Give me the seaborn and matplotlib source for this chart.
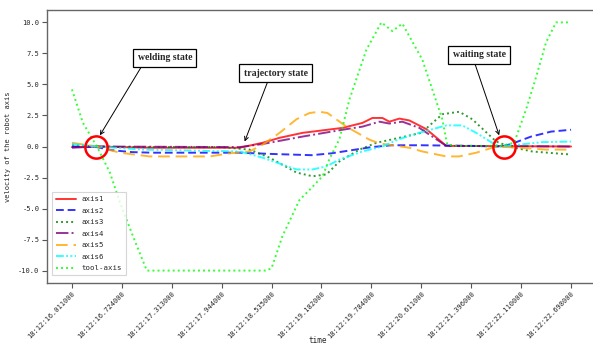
import matplotlib
matplotlib.use("Agg")
import matplotlib.pyplot as plt
import seaborn as sns
import pandas as pd

# ---- data (x = sample index, 0..100) ----
tick_labels = ["18:12:16.011000", "18:12:16.724000", "18:12:17.313000", "18:12:17.944000",
               "18:12:18.535000", "18:12:19.182000", "18:12:19.784000", "18:12:20.611000",
               "18:12:21.396000", "18:12:22.110000", "18:12:22.698000"]
tick_pos = [0, 10, 20, 30, 40, 50, 60, 70, 80, 90, 100]

axis1_x = [0, 5, 15.6, 33.6, 38.2, 41.6, 46.2, 54.2, 58.2, 60.2, 62.2, 63.6, 65.6, 67.6, 71, 75, 100]
axis1_y = [-0.05, 0, -0.1, -0.1, 0.3, 0.7, 1.1, 1.5, 1.9, 2.3, 2.3, 2.0, 2.25, 2.1, 1.4, 0.05, 0.0]

axis2_x = [0, 5, 8, 12, 16, 33.6, 40, 48, 52, 56, 60, 64, 70, 80, 86, 88, 92, 96, 100]
axis2_y = [0.0, -0.05, -0.3, -0.45, -0.5, -0.5, -0.6, -0.7, -0.55, -0.3, -0.05, 0.1, 0.1, 0.05, 0.0, 0.2, 0.8, 1.2, 1.35]

axis3_x = [0, 5, 10, 20, 30, 35.6, 39.6, 45, 48.2, 51, 53.6, 57.6, 61, 65, 70, 74.2, 77.6, 80.2, 85, 87.6, 92.2, 100]
axis3_y = [0.15, 0.0, -0.05, -0.05, -0.05, -0.25, -0.9, -2.1, -2.4, -2.25, -1.2, -0.25, 0.3, 0.65, 1.1, 2.6, 2.8, 2.2, 0.4, 0.0, -0.4, -0.65]

axis4_x = [0, 5, 33.6, 38.2, 46.2, 54.2, 58.2, 61.6, 63.6, 66.2, 69.6, 75, 100]
axis4_y = [-0.1, 0, -0.05, 0.2, 0.8, 1.35, 1.6, 2.0, 1.85, 2.0, 1.5, 0.05, 0.0]

axis5_x = [0, 5, 9.6, 15.6, 27.6, 31.6, 35.6, 38.2, 41.6, 45, 47.6, 49.6, 51.2, 55, 59.6, 61.6, 67.6, 70.2, 75, 77.6, 81, 85, 89.6, 95, 100]
axis5_y = [0.3, 0.0, -0.5, -0.8, -0.8, -0.55, -0.4, 0.15, 1.1, 2.2, 2.7, 2.8, 2.7, 1.6, 0.55, 0.25, -0.1, -0.4, -0.8, -0.8, -0.5, 0.0, -0.1, -0.25, -0.25]

axis6_x = [0, 5, 14.2, 33.6, 38.2, 45, 48.2, 51, 53.6, 58.2, 62.2, 65.6, 69.6, 75, 78.2, 81, 84.2, 85.6, 89.6, 94.2, 100]
axis6_y = [0.2, 0.0, -0.25, -0.4, -0.9, -1.85, -1.85, -1.6, -1.05, -0.4, 0.0, 0.6, 1.1, 1.7, 1.7, 1.1, 0.3, 0.0, 0.15, 0.35, 0.4]

tool_x = [0, 2.2, 5, 7.6, 9.6, 12.2, 15, 39, 40, 42.2, 45.6, 47.6, 50.2, 51.6, 53.6, 55.6, 59, 62, 64.2, 66.2,
          70.2, 72.2, 74.2, 75.2, 77, 86, 88.6, 91, 93, 95, 97, 100]
tool_y = [4.6, 1.9, 0, -2.1, -4.5, -7.2, -10, -10, -9.8, -7.2, -4.3, -3.5, -2.4, -1.0, 0.6, 3.8, 7.8, 10.0, 9.3, 9.9,
          7.0, 4.6, 2.2, 0.15, 0.05, 0.05, 0.3, 3.0, 5.6, 8.4, 10.0, 10.0]

# annotation anchors (state events)
state_names = ["welding state", "trajectory state", "waiting state"]
state_tip_x = [5.6, 34.6, 85.6]
state_tip_y = [0.9, 0.4, 0.9]
state_text_x = [18.6, 40.8, 81.6]
state_text_y = [7.15, 5.9, 7.4]
state_relpos = [(0.12, 0.0), (0.4, 0.0), (0.39, 0.0)]
circle_x = [4.8, 86.6]
circle_y = [0.0, 0.0]

series = [
    ("axis1", axis1_x, axis1_y, "red", "-"),
    ("axis2", axis2_x, axis2_y, "blue", (0, (4, 2))),
    ("axis3", axis3_x, axis3_y, "green", (0, (1, 1.6))),
    ("axis4", axis4_x, axis4_y, "purple", "-."),
    ("axis5", axis5_x, axis5_y, "orange", (0, (6, 3))),
    ("axis6", axis6_x, axis6_y, "cyan", (0, (4, 1.2, 1, 1.2, 1, 1.2))),
    ("tool-axis", tool_x, tool_y, "lime", (0, (1, 1.6))),
]

sns.set_style("white")
mono = ["DejaVu Sans Mono"]

fig = plt.figure(figsize=(5.93, 3.5), dpi=100)
ax = fig.add_axes([47 / 593, 67 / 350, 549 / 593, 273 / 350])

for name, xs, ys, col, ls in series:
    df = pd.DataFrame({"x": xs, "y": ys})
    sns.lineplot(data=df, x="x", y="y", ax=ax, color=col, linestyle=ls, lw=1.4,
                 alpha=0.8, label=name, estimator=None, sort=False)

ax.plot(circle_x, circle_y, linestyle="none", marker="o", ms=16, mfc="none",
        mec="red", mew=1.8, zorder=5)

for name, tx, ty, sx, sy, rp in zip(state_names, state_tip_x, state_tip_y,
                                     state_text_x, state_text_y, state_relpos):
    ax.annotate(name, xy=(tx, ty), xytext=(sx, sy), ha="center", va="center",
                fontfamily="Liberation Serif", fontweight="bold", fontsize=7,
                bbox=dict(boxstyle="square,pad=0.45", fc="white", ec="black", lw=0.9),
                arrowprops=dict(arrowstyle="->", color="black", lw=0.7,
                                relpos=rp, shrinkA=0, shrinkB=0),
                zorder=6)

ax.set_xticks(tick_pos)
ax.set_xticklabels(tick_labels, rotation=45, ha="right", rotation_mode="anchor",
                   fontfamily=mono, fontsize=5)
ax.set_yticks([-10, -7.5, -5, -2.5, 0, 2.5, 5, 7.5, 10])
ax.set_yticklabels(["-10.0", "-7.5", "-5.0", "-2.5", "0.0", "2.5", "5.0", "7.5", "10.0"],
                   fontfamily=mono, fontsize=5)
ax.set_xlim(-5, 105)
ax.set_ylim(-11, 11)
ax.tick_params(axis="both", direction="out", length=3.5, width=0.8, color="#555555",
               bottom=True, left=True, pad=2)
for s in ax.spines.values():
    s.set_color("#666666")
    s.set_linewidth(1.0)

ax.set_xlabel("time", fontfamily=mono, fontsize=5.5)
ax.xaxis.label.set_va("center")
ax.xaxis.set_label_coords(0.494, -0.209)
ax.set_ylabel("velocity of the robot axis", fontfamily=mono, fontsize=5)
ax.yaxis.label.set_va("center")
ax.yaxis.set_label_coords(-0.071, 0.5)

leg = ax.legend(loc="lower left", prop={"family": "DejaVu Sans Mono", "size": 5.3},
                frameon=True, handlelength=2.6, labelspacing=0.72, borderpad=0.55,
                handletextpad=0.8, fancybox=False, edgecolor="#cccccc",
                bbox_to_anchor=(0.003, 0.015))
leg.get_frame().set_linewidth(0.8)

fig.savefig("out.png", dpi=100)
